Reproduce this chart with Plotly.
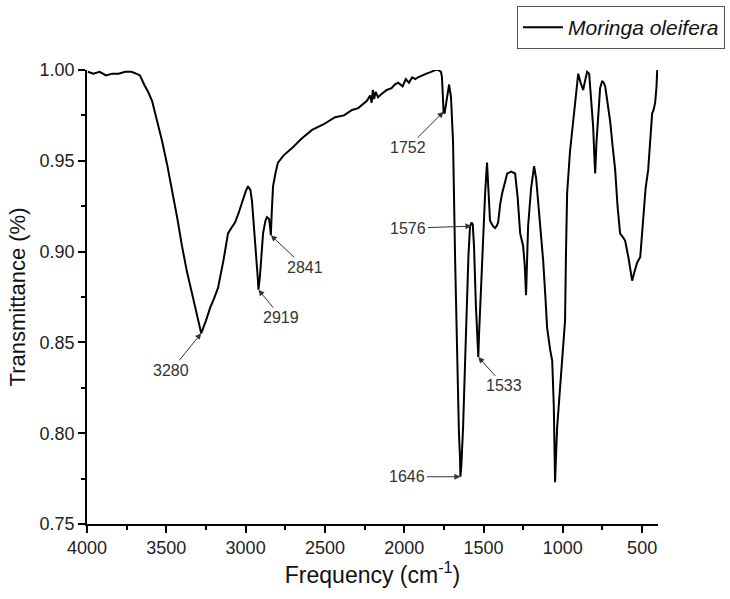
import plotly.graph_objects as go

# Spectrum (wavenumber cm-1, transmittance)
wavenumber = [3995, 3960, 3920, 3880, 3840, 3800, 3760, 3720, 3690, 3666, 3640, 3615, 3590,
              3560, 3527, 3495, 3464, 3430, 3401, 3370, 3338, 3305, 3280, 3250, 3224, 3200,
              3174, 3140, 3111, 3090, 3067, 3045, 3023, 3000, 2985, 2970, 2960, 2945, 2928,
              2922, 2919, 2910, 2890, 2875, 2865, 2852, 2845, 2841, 2835, 2827, 2810, 2796,
              2760, 2707, 2650, 2581, 2510, 2436, 2380, 2329, 2290, 2260, 2235, 2215, 2205,
              2198, 2190, 2180, 2165, 2140, 2110, 2080, 2060, 2038, 2010, 1990, 1970, 1950,
              1930, 1913, 1890, 1860, 1830, 1805, 1785, 1768, 1762, 1757, 1752, 1746, 1742,
              1730, 1717, 1705, 1692, 1679, 1667, 1655, 1648, 1646, 1640, 1629, 1616, 1604,
              1595, 1585, 1576, 1568, 1560, 1548, 1540, 1533, 1528, 1522, 1512, 1503, 1490,
              1478, 1468, 1459, 1440, 1427, 1418, 1408, 1395, 1383, 1365, 1351, 1325, 1301,
              1285, 1269, 1250, 1240, 1232, 1225, 1219, 1200, 1181, 1168, 1156, 1140, 1124,
              1110, 1099, 1080, 1067, 1057, 1049, 1042, 1036, 1020, 1005, 995, 986, 980,
              973, 955, 941, 930, 922, 912, 903, 888, 872, 860, 847, 834, 822, 809, 800,
              796, 788, 777, 765, 752, 742, 733, 718, 702, 686, 670, 655, 639, 622, 607,
              585, 563, 548, 531, 512, 494, 478, 462, 448, 437, 428, 418, 410, 405]
transmittance = [0.999, 0.998, 0.999, 0.997, 0.998, 0.998, 0.999, 0.999, 0.998, 0.997, 0.992,
                 0.988, 0.983, 0.973, 0.961, 0.948, 0.934, 0.918, 0.903, 0.889, 0.877, 0.864,
                 0.855, 0.862, 0.869, 0.874, 0.880, 0.895, 0.910, 0.913, 0.916, 0.921, 0.927,
                 0.933, 0.936, 0.934, 0.928, 0.912, 0.895, 0.884, 0.879, 0.886, 0.910, 0.917,
                 0.919, 0.918, 0.913, 0.909, 0.922, 0.936, 0.944, 0.949, 0.953, 0.957, 0.962,
                 0.967, 0.970, 0.974, 0.975, 0.978, 0.979, 0.981, 0.983, 0.986, 0.982, 0.989,
                 0.984, 0.988, 0.985, 0.987, 0.989, 0.990, 0.992, 0.993, 0.991, 0.995, 0.993,
                 0.996, 0.995, 0.996, 0.997, 0.998, 0.999, 1.000, 1.000, 0.999, 0.996, 0.985,
                 0.977, 0.976, 0.978, 0.986, 0.992, 0.985, 0.960, 0.895, 0.840, 0.800, 0.786,
                 0.776, 0.782, 0.803, 0.840, 0.877, 0.898, 0.914, 0.916, 0.915, 0.903, 0.870,
                 0.850, 0.842, 0.855, 0.868, 0.890, 0.914, 0.932, 0.949, 0.930, 0.917, 0.914,
                 0.913, 0.914, 0.916, 0.926, 0.932, 0.938, 0.943, 0.944, 0.943, 0.930, 0.910,
                 0.903, 0.892, 0.876, 0.895, 0.914, 0.935, 0.947, 0.940, 0.928, 0.912, 0.895,
                 0.875, 0.858, 0.846, 0.840, 0.815, 0.773, 0.790, 0.803, 0.822, 0.840, 0.852,
                 0.862, 0.900, 0.932, 0.955, 0.967, 0.975, 0.982, 0.990, 0.998, 0.993, 0.989,
                 0.994, 0.999, 0.998, 0.985, 0.969, 0.950, 0.943, 0.960, 0.978, 0.990, 0.994,
                 0.993, 0.991, 0.983, 0.972, 0.958, 0.945, 0.925, 0.910, 0.908, 0.906, 0.896,
                 0.884, 0.889, 0.894, 0.897, 0.919, 0.935, 0.945, 0.962, 0.976, 0.978, 0.982,
                 0.990, 1.000]

# Peak annotations: label, wavenumber, transmittance at arrow head, text offset (px)
peak_labels = ["3280", "2919", "2841", "1752", "1576", "1533", "1646"]
peak_x = [3280, 2919, 2841, 1752, 1576, 1533, 1646]
peak_y = [0.855, 0.879, 0.909, 0.977, 0.914, 0.842, 0.776]
peak_ax = [-30, 23, 34, -36, -63, 26, -53]
peak_ay = [37, 28, 32, 36, 2, 29, 0]

FONT = "Liberation Sans, Arial, sans-serif"

fig = go.Figure()
fig.add_trace(go.Scatter(
    x=wavenumber, y=transmittance, mode="lines",
    line=dict(color="black", width=2),
    name="<i>Moringa oleifera</i>",
))

for lab, x, y, ax, ay in zip(peak_labels, peak_x, peak_y, peak_ax, peak_ay):
    fig.add_annotation(
        x=x, y=y, text=lab, showarrow=True, ax=ax, ay=ay,
        arrowhead=2, arrowsize=1.2, arrowwidth=1, arrowcolor="#333333",
        font=dict(family=FONT, size=16, color="#333333"),
    )

axis_common = dict(
    showline=True, linecolor="black", linewidth=1.5, mirror=False,
    ticks="outside", ticklen=7, tickwidth=1.5, tickcolor="black",
    showgrid=False, zeroline=False,
    tickfont=dict(family=FONT, size=18, color="#222222"),
)

fig.update_xaxes(
    range=[4000, 400], tickmode="array",
    tickvals=[4000, 3500, 3000, 2500, 2000, 1500, 1000, 500],
    minor=dict(ticks="outside", ticklen=4, tickwidth=1.5, tickcolor="black", dtick=250),
    title=dict(text="Frequency (cm<sup>-1</sup>)",
               font=dict(family=FONT, size=23, color="#111111"),
               standoff=8),
    **axis_common,
)
fig.update_yaxes(
    range=[0.75, 1.0], tickmode="array",
    tickvals=[0.75, 0.80, 0.85, 0.90, 0.95, 1.00], tickformat=".2f",
    minor=dict(ticks="outside", ticklen=4, tickwidth=1.5, tickcolor="black", dtick=0.025),
    title=dict(text="Transmittance (%)",
               font=dict(family=FONT, size=22, color="#111111"),
               standoff=8),
    **axis_common,
)

fig.update_layout(
    width=730, height=599,
    margin=dict(l=87, r=72, t=70, b=75, autoexpand=False),
    plot_bgcolor="white", paper_bgcolor="white",
    showlegend=True,
    legend=dict(
        x=0.753, y=1.141, xanchor="left", yanchor="top",
        bordercolor="#555555", borderwidth=1, bgcolor="white",
        font=dict(family=FONT, size=21, color="#111111"),
        itemwidth=40,
    ),
)

fig.write_html("out.html")
